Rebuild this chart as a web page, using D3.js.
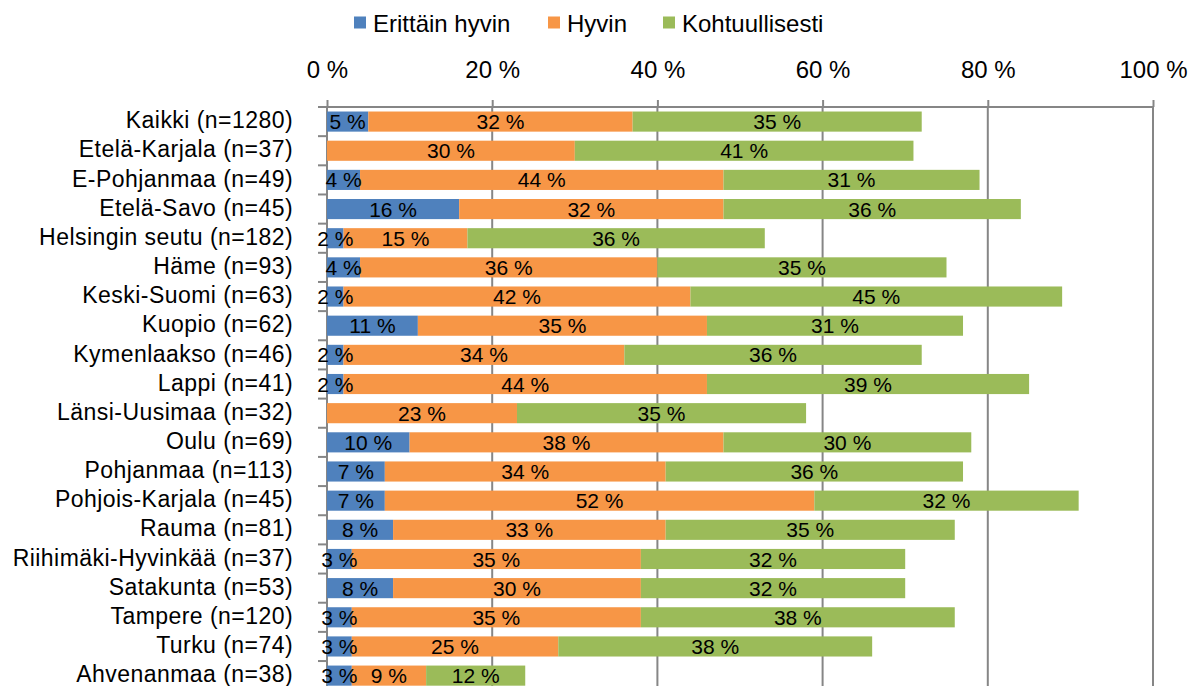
<!DOCTYPE html>
<html>
<head>
<meta charset="utf-8">
<script src="https://cdn.jsdelivr.net/npm/d3@7"></script>
<style>
  html, body { margin: 0; padding: 0; background: #fff; }
  svg { display: block; font-family: "Liberation Sans", Arial, sans-serif; }
</style>
</head>
<body>
<svg id="chart" width="1202" height="686"></svg>
<script>
// Regions with sample sizes, top to bottom.
var categories = [
  "Kaikki (n=1280)", "Etelä-Karjala (n=37)", "E-Pohjanmaa (n=49)", "Etelä-Savo (n=45)",
  "Helsingin seutu (n=182)", "Häme (n=93)", "Keski-Suomi (n=63)", "Kuopio (n=62)",
  "Kymenlaakso (n=46)", "Lappi (n=41)", "Länsi-Uusimaa (n=32)", "Oulu (n=69)",
  "Pohjanmaa (n=113)", "Pohjois-Karjala (n=45)", "Rauma (n=81)", "Riihimäki-Hyvinkää (n=37)",
  "Satakunta (n=53)", "Tampere (n=120)", "Turku (n=74)", "Ahvenanmaa (n=38)"
];
var seriesNames = ["Erittäin hyvin", "Hyvin", "Kohtuullisesti"];
var erittainHyvin = [5, 0, 4, 16, 2, 4, 2, 11, 2, 2, 0, 10, 7, 7, 8, 3, 8, 3, 3, 3];
var hyvin         = [32, 30, 44, 32, 15, 36, 42, 35, 34, 44, 23, 38, 34, 52, 33, 35, 30, 35, 25, 9];
var kohtuullisesti = [35, 41, 31, 36, 36, 35, 45, 31, 36, 39, 35, 30, 36, 32, 35, 32, 32, 38, 38, 12];
var tickValues = [0, 20, 40, 60, 80, 100];
var colors = ["#4f81bd", "#f79646", "#9bbb59"];

var rows = categories.map(function (c, i) {
  return { cat: c, s0: erittainHyvin[i], s1: hyvin[i], s2: kohtuullisesti[i] };
});
var stacked = d3.stack().keys(["s0", "s1", "s2"])(rows);

var svg = d3.select("#chart");
var plotTop = 107, step = 29.16;
var x = d3.scaleLinear().domain([0, 100]).range([327, 1153]);
var y = d3.scaleBand().domain(categories)
  .range([plotTop, plotTop + step * categories.length])
  .paddingInner(0.31).paddingOuter(0.155);
var grey = "#868686";

// gridlines (behind bars)
svg.append("g").selectAll("line")
  .data(tickValues.slice(1)).join("line")
  .attr("x1", function (d) { return x(d); }).attr("x2", function (d) { return x(d); })
  .attr("y1", plotTop).attr("y2", 686)
  .attr("stroke", grey).attr("stroke-width", 2);

// top axis
var xAxis = svg.append("g").attr("transform", "translate(0," + plotTop + ")")
  .call(d3.axisTop(x).tickValues(tickValues).tickSize(7).tickPadding(22)
    .tickFormat(function (d) { return d + " %"; }));
xAxis.select(".domain").remove();
xAxis.selectAll(".tick line").attr("stroke", grey).attr("stroke-width", 2);
xAxis.selectAll(".tick text").attr("font-size", 24).attr("fill", "#000")
  .attr("font-family", "Liberation Sans, Arial, sans-serif");
svg.append("line").attr("x1", 318).attr("x2", x(100)).attr("y1", plotTop).attr("y2", plotTop)
  .attr("stroke", grey).attr("stroke-width", 2);

// left axis line with ticks at band boundaries
svg.append("line").attr("x1", x(0)).attr("x2", x(0)).attr("y1", plotTop).attr("y2", 686)
  .attr("stroke", grey).attr("stroke-width", 2);
svg.append("g").selectAll("line")
  .data(d3.range(categories.length + 1)).join("line")
  .attr("x1", 318).attr("x2", x(0))
  .attr("y1", function (i) { return plotTop + i * step; })
  .attr("y2", function (i) { return plotTop + i * step; })
  .attr("stroke", grey).attr("stroke-width", 2);

// bars
var layer = svg.append("g").selectAll("g")
  .data(stacked).join("g")
  .attr("fill", function (d, i) { return colors[i]; });
layer.selectAll("rect")
  .data(function (d) { return d; }).join("rect")
  .attr("x", function (d) { return x(d[0]); })
  .attr("width", function (d) { return x(d[1]) - x(d[0]); })
  .attr("y", function (d) { return y(d.data.cat); })
  .attr("height", y.bandwidth());

// segment labels
var labels = svg.append("g").attr("font-size", 21).attr("fill", "#000").attr("text-anchor", "middle");
stacked.forEach(function (s) {
  labels.selectAll(null)
    .data(s.filter(function (d) { return d[1] - d[0] > 0; })).join("text")
    .attr("x", function (d) { return (x(d[0]) + x(d[1])) / 2; })
    .attr("y", function (d) { return y(d.data.cat) + y.bandwidth() / 2; })
    .attr("dy", "0.36em")
    .text(function (d) { return (d[1] - d[0]) + " %"; });
});

// category labels
svg.append("g").attr("font-size", 23).attr("letter-spacing", 0.45)
  .attr("fill", "#000").attr("text-anchor", "end")
  .selectAll("text").data(categories).join("text")
  .attr("x", 293)
  .attr("y", function (d) { return y(d) + y.bandwidth() / 2; })
  .attr("dy", "0.29em")
  .text(function (d) { return d; });

// legend
var legendX = [354, 548, 663];
var legend = svg.append("g").selectAll("g")
  .data(seriesNames).join("g")
  .attr("transform", function (d, i) { return "translate(" + legendX[i] + ",0)"; });
legend.append("rect").attr("x", 0).attr("y", 16.5).attr("width", 12).attr("height", 12)
  .attr("fill", function (d, i) { return colors[i]; });
legend.append("text").attr("x", 19).attr("y", 32)
  .attr("font-size", 24).attr("fill", "#000")
  .text(function (d) { return d; });
</script>
</body>
</html>
